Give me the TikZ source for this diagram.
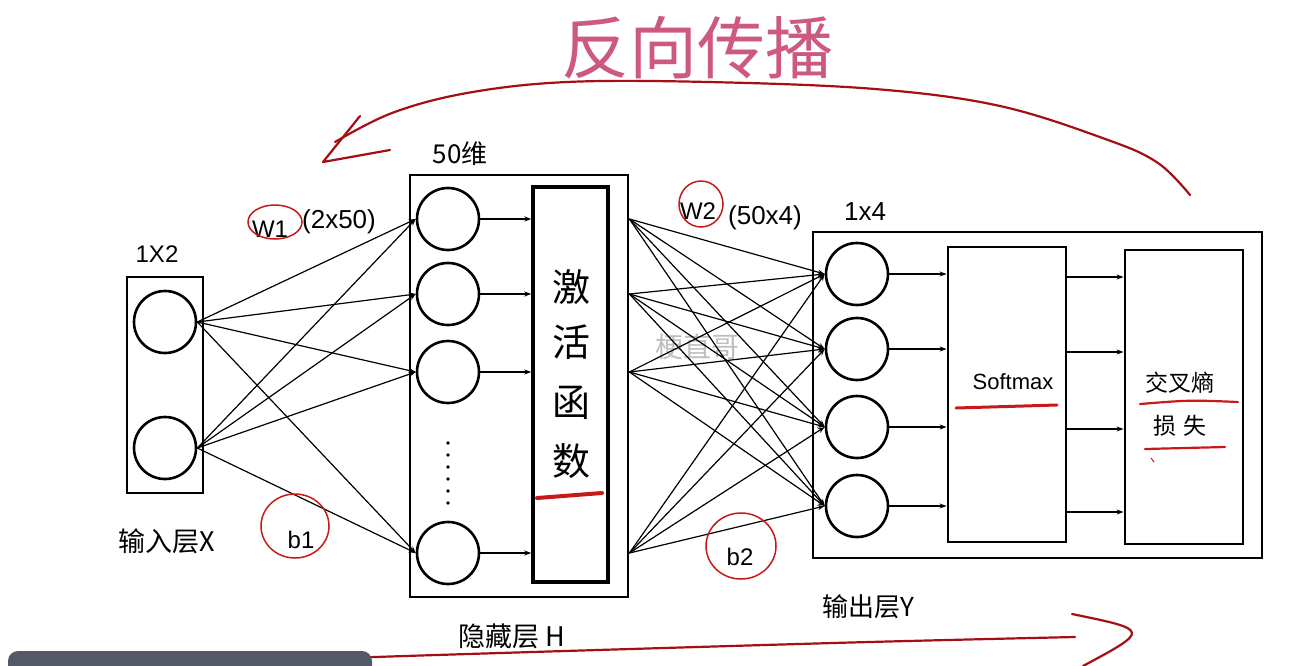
\documentclass[tikz,border=0pt]{standalone}
\usepackage{fontspec}
\setmainfont{Liberation Sans}
\newfontfamily\cjk{Noto Sans CJK SC}
\usetikzlibrary{arrows.meta,calc}
\definecolor{inkred}{RGB}{165,15,20}
\definecolor{loopred}{RGB}{200,25,25}
\definecolor{titlepink}{RGB}{205,88,128}
\definecolor{wmgray}{RGB}{190,190,190}
\definecolor{barslate}{RGB}{85,89,102}
\tikzset{
  neuron/.style={circle, draw, line width=2.6pt, minimum size=62pt, inner sep=0pt},
  layerbox/.style={draw, line width=2.8pt, inner sep=0pt, fill=none},
  conn/.style={line width=1.2pt, -{Stealth[length=7pt,width=5pt]}},
  redloop/.style={draw=loopred, line width=1.5pt},
  redmark/.style={draw=loopred, line width=3pt, line cap=round},
  inkline/.style={draw=inkred, line width=2.2pt, line cap=round, line join=round},
  hand/.style={font=\cjk\fontsize{26}{28}\selectfont, inner sep=1pt},
  latin/.style={font=\fontsize{24}{26}\selectfont, inner sep=1pt},
  actchar/.style={font=\cjk\fontsize{38}{40}\selectfont, inner sep=0pt},
}
\begin{document}
\begin{tikzpicture}[x=1pt,y=-1pt]
\useasboundingbox (0,0) rectangle (1297,665);
\fill[white] (0,0) rectangle (1297,665);

% title and watermark
\node[font=\cjk\fontsize{68}{70}\selectfont, text=titlepink] (title) at (697,48) {反向传播};
\node[font=\cjk\fontsize{28}{30}\selectfont, text=wmgray] (wm) at (697,347) {梗直哥};

% input layer
\node[layerbox, minimum width=76pt, minimum height=216pt] (inbox) at (165,385) {};
\node[neuron] (x1) at (165,322) {};
\node[neuron] (x2) at (165,448) {};
\node[latin] (insize) at (157,254) {1X2};
\node[hand, font=\cjk\fontsize{27}{29}\selectfont] (inlab) at (167,541) {输入层X};

% hidden layer
\node[layerbox, minimum width=218pt, minimum height=422pt] (hidbox) at (519,386) {};
\node[neuron] (h1) at (448,219) {};
\node[neuron] (h2) at (448,294) {};
\node[neuron] (h3) at (448,372) {};
\node[neuron] (h4) at (448,553) {};
\foreach \yy in {443,455,467,479,491,503} \fill (448,\yy) circle (1.8pt);
\node[layerbox, line width=3.4pt, minimum width=75pt, minimum height=395pt] (act) at (570.5,384.5) {};
\node[actchar] (a1) at (571,287) {激};
\node[actchar] (a2) at (571,342) {活};
\node[actchar] (a3) at (571,403) {函};
\node[actchar] (a4) at (571,461) {数};
\draw[redmark, line width=4pt] (537,498) -- (602,493);
\node[hand] (hidsize) at (460,154) {50维};
\node[hand, font=\cjk\fontsize{27}{29}\selectfont] (hidlab) at (512,636) {隐藏层 H};

\foreach \h in {h1,h2,h3,h4} \draw[conn] (\h.east) -- (\h.east -| act.west);

% output layer
\node[layerbox, minimum width=449pt, minimum height=326pt] (outbox) at (1037.5,395) {};
\node[neuron] (o1) at (857,274) {};
\node[neuron] (o2) at (857,349) {};
\node[neuron] (o3) at (857,427) {};
\node[neuron] (o4) at (857,506) {};
\node[layerbox, minimum width=118pt, minimum height=295pt] (sm) at (1007,394.5) {};
\node[layerbox, minimum width=118pt, minimum height=294pt] (ce) at (1184,397) {};
\node[latin, font=\fontsize{22}{24}\selectfont] (smlab) at (1013,382) {Softmax};
\draw[redmark] (956,408) -- (1057,405);
\node[hand, font=\cjk\fontsize{23}{25}\selectfont] (celab1) at (1180,383) {交叉熵};
\node[hand, font=\cjk\fontsize{23}{25}\selectfont] (celab2) at (1180,426) {损\,\,失};
\draw[redmark, line width=2.2pt] (1140,404) .. controls (1190,400) .. (1238,402);
\draw[redmark, line width=2.2pt] (1145,449) -- (1225,447);
\draw[loopred, line width=1pt] (1151,458) -- (1154,462);
\node[latin, font=\fontsize{26}{28}\selectfont] (outsize) at (865,212) {1x4};
\node[hand] (outlab) at (868,607) {输出层Y};

\foreach \o in {o1,o2,o3,o4} \draw[conn] (\o.east) -- (\o.east -| sm.west);
\coordinate (s1) at (1066,277);
\coordinate (s2) at (1066,352);
\coordinate (s3) at (1066,429);
\coordinate (s4) at (1066,512);
\foreach \s in {s1,s2,s3,s4} \draw[conn] (sm.east |- \s) -- (ce.west |- \s);

% input -> hidden
\foreach \x in {x1,x2}
  \foreach \h in {h1,h2,h3,h4}
    \draw[conn] (\x.east) -- (\h.west);

% hidden -> output
\foreach \h in {h1,h2,h3,h4}
  \foreach \o in {o1,o2,o3,o4}
    \draw[conn] (hidbox.east |- \h) -- (\o.west);

% weight / bias labels
\node[latin] (w1) at (270,229) {W1};
\node[latin, font=\fontsize{26}{28}\selectfont] (w1s) at (339,222) {(2x50)};
\draw[redloop] (275,222) ellipse (27pt and 17pt);
\node[latin] (b1) at (301,540) {b1};
\draw[redloop] (295,526) ellipse (34pt and 32pt);
\node[latin] (w2) at (698,211) {W2};
\node[latin, font=\fontsize{26}{28}\selectfont] (w2s) at (765,218) {(50x4)};
\draw[redloop] (701,204) ellipse (22pt and 23pt);
\node[latin] (b2) at (740,557) {b2};
\draw[redloop] (741,546) ellipse (35pt and 33pt);

% back-propagation arc
\draw[inkline] plot[smooth, tension=0.6] coordinates {(1190,195) (1158,163) (1108,140) (1000,106) (875,89) (708,82) (567,82) (467,93) (392,113) (335,142)};
\draw[inkline] (360,116) -- (323,162) -- (390,150);

% forward arrow at bottom
\draw[inkline] plot[smooth, tension=0.5] coordinates {(125,667) (375,657) (833,643) (1075,637)};
\draw[inkline] (1072,614) .. controls (1150,630) .. (1083,666);

% screen bar
\fill[barslate, rounded corners=10pt] (8,651) rectangle (372,690);
\end{tikzpicture}
\end{document}
